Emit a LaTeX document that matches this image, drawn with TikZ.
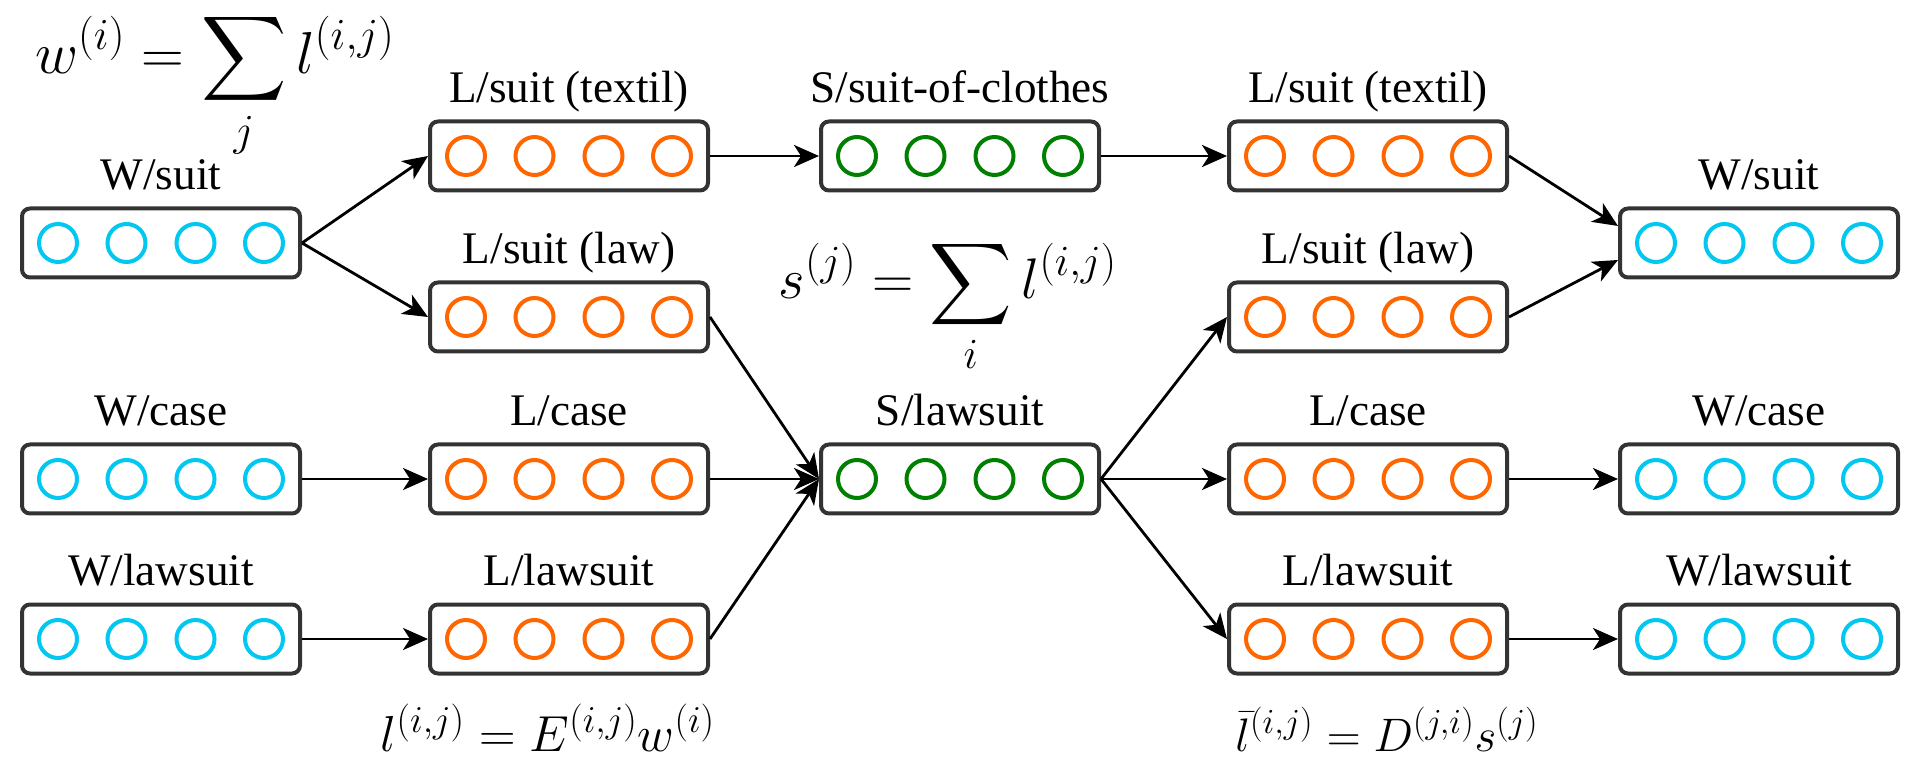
\RequirePackage{fix-cm}
\documentclass[tikz,border=0pt]{standalone}
\usepackage{fontspec}
\setmainfont{Liberation Serif}
\DeclareFontShape{OMX}{cmex}{m}{n}{<-> cmex10}{}
\DeclareMathSizes{29.6}{29.6}{22.2}{14.8}
\DeclareMathSizes{28.6}{28.6}{21.5}{14.3}
\DeclareMathSizes{25.3}{25.3}{19}{12.7}
\DeclareMathSizes{23.5}{23.5}{17.6}{11.8}
\usetikzlibrary{arrows.meta}
\definecolor{wcol}{RGB}{0,200,240}
\definecolor{lcol}{RGB}{255,102,0}
\definecolor{scol}{RGB}{0,128,0}
\definecolor{bord}{RGB}{51,51,51}
\newcommand\mkvec[5]{%
  \node[vbox] (#1) at (#2,#3) {};
  \foreach \dx in {-51.5,-17.25,17.25,51.5}
    \node[unit,draw=#4] at ([xshift=\dx pt]#1.center) {};
  \node[lab] (#1-l) at ([yshift=8.5pt]#1.north) {#5};
}
\begin{document}
\begin{tikzpicture}[x=0.5pt,y=-0.5pt,
  vbox/.style={draw=bord,line width=2pt,rounded corners=4pt,minimum width=139pt,minimum height=34.5pt,inner sep=0pt,fill=white},
  unit/.style={circle,line width=2pt,minimum size=19pt,inner sep=0pt},
  lab/.style={anchor=base,font=\fontsize{22.6}{27}\selectfont,inner sep=0pt},
  eq/.style={anchor=base,inner sep=0pt,font=\fontsize{#1}{#1}\selectfont},
  conn/.style={-{Stealth[length=12.5pt,width=11pt,inset=3.5pt]},line width=1.4pt,black}]
\useasboundingbox (0,0) rectangle (1905,758);
% left W column
\mkvec{wsL}{161}{243}{wcol}{W/suit}
\mkvec{wcL}{161}{479}{wcol}{W/case}
\mkvec{wwL}{161}{639}{wcol}{W/lawsuit}
% left L column
\mkvec{ltL}{569}{156}{lcol}{L/suit (textil)}
\mkvec{llL}{569}{317}{lcol}{L/suit (law)}
\mkvec{lcL}{569}{479}{lcol}{L/case}
\mkvec{lwL}{569}{639}{lcol}{L/lawsuit}
% S column
\mkvec{ssc}{960}{156}{scol}{S/suit-of-clothes}
\mkvec{slaw}{960}{479}{scol}{S/lawsuit}
% right L column
\mkvec{ltR}{1368}{156}{lcol}{L/suit (textil)}
\mkvec{llR}{1368}{317}{lcol}{L/suit (law)}
\mkvec{lcR}{1368}{479}{lcol}{L/case}
\mkvec{lwR}{1368}{639}{lcol}{L/lawsuit}
% right W column
\mkvec{wsR}{1759}{243}{wcol}{W/suit}
\mkvec{wcR}{1759}{479}{wcol}{W/case}
\mkvec{wwR}{1759}{639}{wcol}{W/lawsuit}
% connectors
\draw[conn] (wsL.east) -- (ltL.west);
\draw[conn] (wsL.east) -- (llL.west);
\draw[conn] (wcL.east) -- (lcL.west);
\draw[conn] (wwL.east) -- (lwL.west);
\draw[conn] (ltL.east) -- (ssc.west);
\draw[conn] (llL.east) -- (slaw.west);
\draw[conn] (lcL.east) -- (slaw.west);
\draw[conn] (lwL.east) -- (slaw.west);
\draw[conn] (ssc.east) -- (ltR.west);
\draw[conn] (slaw.east) -- (llR.west);
\draw[conn] (slaw.east) -- (lcR.west);
\draw[conn] (slaw.east) -- (lwR.west);
\draw[conn] (ltR.east) -- ([yshift=8.5pt]wsR.west);
\draw[conn] (llR.east) -- ([yshift=-8.5pt]wsR.west);
\draw[conn] (lcR.east) -- (wcR.west);
\draw[conn] (lwR.east) -- (wwR.west);
% formulas
\node[eq=29.6] (f1) at (215,74) {$\displaystyle w^{(i)}=\sum_j l^{(i,j)}$};
\node[eq=28.6] (f2) at (948,299) {$\displaystyle s^{(j)}=\sum_i l^{(i,j)}$};
\node[eq=25.3] (f3) at (548,751) {$l^{(i,j)}=E^{(i,j)}w^{(i)}$};
\node[eq=23.5] (f4) at (1387,751) {$\bar{l}^{(i,j)}=D^{(j,i)}s^{(j)}$};
\end{tikzpicture}
\end{document}
